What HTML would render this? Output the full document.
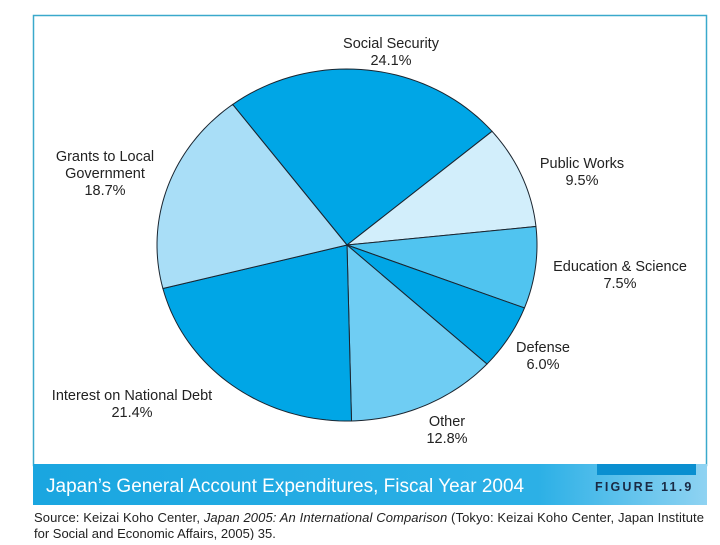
<!DOCTYPE html>
<html><head><meta charset="utf-8"><style>
body{margin:0;background:#fff;width:720px;height:540px;overflow:hidden;font-family:"Liberation Sans",sans-serif}
</style></head><body>
<svg width="720" height="540" viewBox="0 0 720 540" xmlns="http://www.w3.org/2000/svg">
<defs><linearGradient id="tb" x1="0" x2="1" y1="0" y2="0">
<stop offset="0" stop-color="#1aa6e0"/><stop offset="0.75" stop-color="#2cb0e6"/><stop offset="1" stop-color="#8fd3f2"/></linearGradient></defs>
<rect x="33.5" y="15.5" width="673" height="450" fill="#fff" stroke="#3aa9cc" stroke-width="1.5"/>
<g id="pie"></g>
<g id="labels" font-size="14.5" fill="#222"></g>
<rect x="33" y="464" width="674" height="41" fill="url(#tb)"/>
<rect x="597" y="464" width="99" height="11" fill="#0a8fd0"/>
<text x="46" y="492" font-size="19" fill="#fff">Japan’s General Account Expenditures, Fiscal Year 2004</text>
<text x="595" y="491" font-size="12.5" font-weight="bold" fill="#1a2a44" letter-spacing="2.2">FIGURE 11.9</text>
<text x="34" y="522" font-size="13" fill="#222" textLength="670">Source: Keizai Koho Center, <tspan font-style="italic">Japan 2005: An International Comparison</tspan> (Tokyo: Keizai Koho Center, Japan Institute</text>
<text x="34" y="538" font-size="13" fill="#222">for Social and Economic Affairs, 2005) 35.</text>
</svg>
<script>
const categories=["Social Security","Public Works","Education & Science","Defense","Other","Interest on National Debt","Grants to Local Government"];
const values=[24.1,9.5,7.5,6.0,12.8,21.4,18.7];
const valueLabels=["24.1%","9.5%","7.5%","6.0%","12.8%","21.4%","18.7%"];
const colors=["#00a6e6","#d2eefb","#50c4f0","#00a6e6","#6fcdf3","#00a6e6","#a9def7"];
const labelLines=[["Social Security"],["Public Works"],["Education & Science"],["Defense"],["Other"],["Interest on National Debt"],["Grants to Local","Government"]];
const labelAnchors=[[391,48],[582,168],[620,271],[543,352],[447,426],[132,400],[105,161]];
const NS="http://www.w3.org/2000/svg";
const cx=347,cy=245,rx=190,ry=176,start=-37;
const total=values.reduce((a,b)=>a+b,0);
function pt(deg){const t=deg*Math.PI/180;return [cx+rx*Math.sin(t),cy-ry*Math.cos(t)];}
const pie=document.getElementById('pie');
let a=start;
values.forEach((v,i)=>{
 const span=v/total*360;const a2=a+span;
 let d=`M${cx},${cy}`;
 for(let k=0;k<=40;k++){const p=pt(a+span*k/40);d+=`L${p[0].toFixed(2)},${p[1].toFixed(2)}`;}
 d+='Z';
 const el=document.createElementNS(NS,'path');
 el.setAttribute('d',d);el.setAttribute('fill',colors[i]);el.setAttribute('stroke','#1a2530');el.setAttribute('stroke-width','1');
 
 
 pie.appendChild(el);a=a2;
});
const lg=document.getElementById('labels');
categories.forEach((c,i)=>{
 const t=document.createElementNS(NS,'text');
 t.setAttribute('text-anchor','middle');
 
 
 const lines=labelLines[i].concat([valueLabels[i]]);
 lines.forEach((s,j)=>{const ts=document.createElementNS(NS,'tspan');ts.setAttribute('x',labelAnchors[i][0]);ts.setAttribute('y',labelAnchors[i][1]+j*17);ts.textContent=s;t.appendChild(ts);});
 lg.appendChild(t);
});
</script>
</body></html>
